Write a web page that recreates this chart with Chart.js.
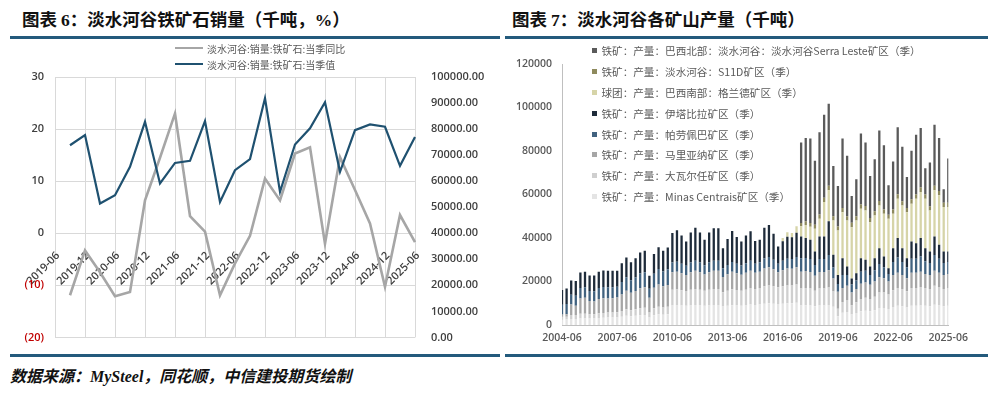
<!DOCTYPE html>
<html>
<head>
<meta charset="utf-8">
<script src="https://cdn.jsdelivr.net/npm/chart.js@4.4.1/dist/chart.umd.min.js"></script>
<style>
  body { margin: 0; width: 996px; height: 396px; background: #fff; position: relative; overflow: hidden;
         font-family: "Noto Sans CJK SC", sans-serif; }
  .title { position: absolute; top: 6px; font-size: 17.5px; font-weight: 700; color: #111; white-space: nowrap; line-height: 25px; }
  .num { font-family: "Liberation Serif", serif; }
  .rule { position: absolute; height: 3px; background: #235a7c; }
  canvas { position: absolute; }
  .legend { position: absolute; color: #595959; white-space: nowrap; z-index: 2; }
  .legend .row { display: flex; align-items: center; }
  .footer { position: absolute; left: 10px; top: 364px; font-size: 16px; font-weight: 700; font-style: italic; color: #111; line-height: 22px; white-space: nowrap; }
  .footer .en { font-family: "Liberation Serif", serif; }
</style>
</head>
<body>
<div class="title" style="left:22px">图表 <span class="num">6</span>：淡水河谷铁矿石销量（千吨，<span class="num">%</span>）</div>
<div class="title" style="left:512px">图表 <span class="num">7</span>：淡水河谷各矿山产量（千吨）</div>
<div class="rule" style="left:10px;width:490px;top:36px"></div>
<div class="rule" style="left:505px;width:483px;top:36px"></div>
<div class="rule" style="left:10px;width:490px;top:354px"></div>
<div class="rule" style="left:505px;width:483px;top:354px"></div>

<canvas id="salesChart" width="500" height="320" style="left:0;top:40px"></canvas>
<canvas id="mineChart" width="470" height="310" style="left:505px;top:40px"></canvas>

<div class="legend" id="salesLegend" style="left:175px;top:40px;font-size:10px"></div>
<div class="legend" id="mineLegend" style="left:592px;top:40px;font-size:10.6px"></div>

<div class="footer">数据来源：<span class="en">MySteel</span>，同花顺，中信建投期货绘制</div>

<script>
// ---- 图表6 data ----
const quarters = ['2019-06', '2019-09', '2019-12', '2020-03', '2020-06', '2020-09', '2020-12', '2021-03', '2021-06',
  '2021-09', '2021-12', '2022-03', '2022-06', '2022-09', '2022-12', '2023-03', '2023-06', '2023-09', '2023-12',
  '2024-03', '2024-06', '2024-09', '2024-12', '2025-03', '2025-06'];
const yoyLabel = '淡水河谷:销量:铁矿石:当季同比';
const salesLabel = '淡水河谷:销量:铁矿石:当季值';
const yoyValues = [null, -11.9, -3.3, -7.5, -12.1, -11.3, 6.3, 14.5, 23.0, 3.3, 0.3, -11.9, -5.8,
  -0.5, 10.5, 6.3, 15.3, 16.5, -2.0, 14.6, 8.3, 1.9, -10.3, 3.5, -1.7];
const salesValues = [null, 73800, 77700, 51400, 54600, 65500, 82800, 59100, 67000, 67800, 83100, 52000, 64200,
  68500, 91800, 55900, 74100, 80300, 90300, 63600, 79600, 81800, 80900, 65900, 77000];

// ---- 图表7 data ----
const mineQuarters = [
  '2004-06', '2004-09', '2004-12',
  '2005-03', '2005-06', '2005-09', '2005-12', '2006-03', '2006-06', '2006-09', '2006-12',
  '2007-03', '2007-06', '2007-09', '2007-12', '2008-03', '2008-06', '2008-09', '2008-12',
  '2009-03', '2009-06', '2009-09', '2009-12', '2010-03', '2010-06', '2010-09', '2010-12',
  '2011-03', '2011-06', '2011-09', '2011-12', '2012-03', '2012-06', '2012-09', '2012-12',
  '2013-03', '2013-06', '2013-09', '2013-12', '2014-03', '2014-06', '2014-09', '2014-12',
  '2015-03', '2015-06', '2015-09', '2015-12', '2016-03', '2016-06', '2016-09', '2016-12',
  '2017-03', '2017-06', '2017-09', '2017-12', '2018-03', '2018-06', '2018-09', '2018-12',
  '2019-03', '2019-06', '2019-09', '2019-12', '2020-03', '2020-06', '2020-09', '2020-12',
  '2021-03', '2021-06', '2021-09', '2021-12', '2022-03', '2022-06', '2022-09', '2022-12',
  '2023-03', '2023-06', '2023-09', '2023-12', '2024-03', '2024-06', '2024-09', '2024-12',
  '2025-03', '2025-06'];

const minasCentrais = [
  2500, 2500, 2800, 2800, 3000, 3000, 3000, 3000, 3200, 3300, 3400, 3400, 3500, 3800, 4200, 4000,
  4200, 4500, 4600, 3500, 4500, 4900, 4700, 4900,
  9000, 9000, 9000, 8800, 9000, 9200, 9000, 8800, 9000, 9200, 9200, 8500, 8800, 9100, 9000, 8800,
  9000, 9400, 9200, 9400, 9800, 10000, 9800, 9600, 9800, 10000, 10000, 10200,
  9000, 9100, 9000, 8600, 9000, 9000, 9200, 8400, 4000, 5600, 6000, 4800, 5500, 6300, 6500, 6300,
  6800, 7800, 7800, 7300, 8300, 8800, 8600, 8000, 8800, 8800, 9000, 8800, 8600, 9300, 9000, 8600, 8800];
const vargemGrande = [
  1300, 1300, 1800, 1800, 2200, 2200, 2000, 2000, 2200, 2200, 2300, 2300, 2400, 2600, 3000, 2800,
  3000, 3200, 3300, 2200, 3200, 3500, 3300, 3500,
  7200, 7300, 7000, 6800, 7200, 7400, 7200, 6900, 7200, 7400, 7400, 6600, 7000, 7300, 7100, 6900,
  7200, 7600, 7400, 7600, 8000, 8200, 8000, 7800, 8000, 8200, 8200, 8400,
  7800, 7900, 7800, 7200, 7800, 7800, 8000, 7000, 3500, 5000, 5500, 4300, 5000, 5700, 6000, 5700,
  6200, 7200, 7200, 6700, 7700, 8200, 7900, 7500, 8200, 8200, 8500, 8200, 7900, 8700, 8500, 7900, 8200];
const mariana = [
  1000, 1200, 4800, 4200, 7000, 7300, 6000, 5800, 6600, 6800, 6500, 6600, 6700, 7600, 8500, 8000,
  8400, 9200, 9500, 6800, 9400, 10200, 9800, 10000,
  8000, 8200, 7800, 7400, 8000, 8300, 8000, 7500, 8000, 8300, 8300, 7000, 7500, 8100, 7700, 7400,
  7800, 8000, 7400, 7500, 8200, 8400, 7800, 6800, 7400, 7800, 7700, 8000,
  7700, 7800, 7600, 6800, 7600, 7600, 8000, 6000, 7800, 6400, 6500, 5900, 6000, 7000, 7000, 6500,
  7000, 7000, 6500, 6000, 7000, 7000, 6500, 6000, 7000, 7000, 7000, 6500, 6500, 7000, 6500, 6500, 6500];
const paraopeba = [
  4500, 4600, 4500, 4600, 4800, 4800, 4600, 4700, 5000, 5200, 5200, 5100, 5000, 5800, 6300, 5800,
  6200, 6800, 6900, 4200, 6500, 7200, 6800, 7200,
  4500, 4600, 4400, 4200, 4500, 4600, 4500, 4300, 4500, 4600, 4600, 4000, 4300, 4500, 4400, 4200,
  4400, 4500, 4200, 4300, 4600, 4700, 4400, 4000, 4300, 4500, 4500, 4700,
  6200, 6000, 6000, 5000, 6000, 6000, 7000, 5000, 3500, 6000, 5000, 3600, 4000, 5500, 5400, 4500,
  5200, 6000, 5000, 3500, 6000, 7000, 6000, 5000, 6500, 6500, 7000, 5800, 5500, 7200, 6500, 5500, 5500];
const itabira = [
  6800, 7200, 6600, 6800, 7100, 7200, 7200, 7300, 7500, 7600, 7600, 7600, 7400, 8600, 9000, 8300,
  8900, 9600, 9800, 6000, 9000, 10000, 9500, 10000,
  13600, 14500, 13000, 11200, 13800, 15200, 13800, 11700, 13800, 15000, 15000, 9200, 11900, 14200, 12300, 11100,
  12700, 13600, 10400, 10400, 14100, 14700, 11900, 7900, 9000, 10100, 10000, 11100,
  10000, 9200, 8800, 6200, 10300, 10300, 15500, 5900, 4200, 7700, 3900, 2800, 3300, 6200, 5100, 3900,
  5500, 7300, 5000, 2600, 6300, 9000, 6300, 4200, 7900, 7100, 8500, 6000, 5300, 8500, 6400, 5300, 4800];
const grandePellets = [
  0, 0, 0, 0, 0, 0, 0, 0, 0, 0, 0, 0, 0, 0, 0, 0, 0, 0, 0, 0, 0, 0, 0, 0,
  0, 0, 0, 0, 0, 0, 0, 0, 0, 0, 0, 0, 0, 0, 0, 0, 0, 0, 0, 0, 0, 0, 0, 0, 1500, 2000, 1900, 3000,
  4700, 6000, 6000, 10500, 8100, 15800, 14200, 15700, 20400, 21100, 21100, 23500, 24200, 22700, 22600, 20300,
  19600, 19600, 19600, 22700, 15800, 18000, 19600, 21100, 17300, 20400, 21100, 22700, 18800, 21200, 22700, 20400, 20400];
const s11d = [
  0, 0, 0, 0, 0, 0, 0, 0, 0, 0, 0, 0, 0, 0, 0, 0, 0, 0, 0, 0, 0, 0, 0, 0,
  0, 0, 0, 0, 0, 0, 0, 0, 0, 0, 0, 0, 0, 0, 0, 0, 0, 0, 0, 0, 0, 0, 0, 0, 0, 0, 0, 0,
  1500, 1700, 1700, 1800, 2000, 2000, 2100, 2000, 1900, 2000, 2000, 2100, 2000, 2000, 2100, 2000,
  2000, 2100, 2000, 1900, 2000, 2100, 2000, 2000, 2100, 2000, 2100, 2000, 2000, 2100, 2000, 2000, 2000];
const serraLeste = [
  0, 0, 0, 0, 0, 0, 0, 0, 0, 0, 0, 0, 0, 0, 0, 0, 0, 0, 0, 0, 0, 0, 0, 0,
  0, 0, 0, 0, 0, 0, 0, 0, 0, 0, 0, 0, 0, 0, 0, 0, 0, 0, 0, 0, 0, 0, 0, 0, 0, 0, 0, 0,
  37000, 38300, 38900, 29400, 37800, 38200, 37700, 23100, 18600, 32000, 27800, 12300, 17000, 32700, 29200, 19300,
  23900, 32400, 29600, 13500, 22100, 30800, 25000, 14300, 22300, 27500, 27400, 12100, 20100, 28100, 24400, 6200, 20300];

// stacking order: bottom first
const mineSeries = [minasCentrais, vargemGrande, mariana, paraopeba, itabira, grandePellets, s11d, serraLeste];
const mineLabels = ['铁矿：产量：Minas Centrais矿区（季）', '铁矿：产量：大瓦尔任矿区（季）', '铁矿：产量：马里亚纳矿区（季）',
  '铁矿：产量：帕劳佩巴矿区（季）', '铁矿：产量：伊塔比拉矿区（季）', '球团：产量：巴西南部：格兰德矿区（季）',
  '铁矿：产量：淡水河谷：S11D矿区（季）', '铁矿：产量：巴西北部：淡水河谷：淡水河谷Serra Leste矿区（季）'];
const mineColors = ['#e4e4e4', '#cfcfcf', '#a6a6a6', '#41627f', '#1e2b3a', '#d6d4a8', '#8e8a5d', '#5a5a5a'];

Chart.defaults.font.family = '"Open Sans", sans-serif';
Chart.defaults.font.size = 10;
Chart.defaults.font.weight = '600';

const leftFont = { size: 11, weight: '600' };
const rightFont = { size: 10.5, weight: '600' };

new Chart(document.getElementById('salesChart'), {
  type: 'line',
  data: {
    labels: quarters,
    datasets: [
      { label: yoyLabel, data: yoyValues, yAxisID: 'y', borderColor: '#a6a6a6', borderWidth: 2.6,
        pointRadius: 0, order: 1 },
      { label: salesLabel, data: salesValues, yAxisID: 'y1', borderColor: '#1f5170', borderWidth: 2.2,
        pointRadius: 0, order: 0 }
    ]
  },
  options: {
    responsive: false,
    animation: false,
    layout: { padding: { top: 37, bottom: 3, left: 0, right: 0 } },
    plugins: { legend: { display: false }, tooltip: { enabled: false } },
    scales: {
      x: {
        position: { y: 0 },
        grid: { color: '#d9d9d9', drawTicks: false },
        border: { display: false },
        ticks: {
          autoSkip: false, minRotation: 45, maxRotation: 45, padding: 16, labelOffset: 3,
          color: '#404040', font: leftFont,
          callback: (v, i) => (i % 2 === 0 ? quarters[i] : null)
        }
      },
      y: {
        position: 'left', min: -20, max: 30,
        grid: { color: '#d9d9d9', drawTicks: false },
        border: { display: false },
        ticks: {
          stepSize: 10, padding: 11, font: leftFont,
          color: ctx => (ctx.tick.value < 0 ? '#c00000' : '#404040'),
          callback: v => (v < 0 ? '(' + (-v) + ')' : String(v))
        },
        afterFit: s => { s.width = 55; }
      },
      y1: {
        position: 'right', min: 0, max: 100000,
        grid: { display: false, drawTicks: false },
        border: { display: false },
        ticks: { stepSize: 10000, padding: 16, color: '#404040', font: leftFont, callback: v => v.toFixed(2) },
        afterFit: s => { s.width = 85; }
      }
    }
  }
});

new Chart(document.getElementById('mineChart'), {
  type: 'bar',
  data: {
    labels: mineQuarters,
    datasets: mineSeries.map((values, i) => ({
      label: mineLabels[i],
      data: values,
      backgroundColor: mineColors[i],
      borderWidth: 0,
      barPercentage: 0.5,
      categoryPercentage: 1
    }))
  },
  options: {
    responsive: false,
    animation: false,
    layout: { padding: { top: 24, right: 22, left: 0, bottom: 0 } },
    plugins: { legend: { display: false }, tooltip: { enabled: false } },
    scales: {
      x: {
        stacked: true, offset: false,
        grid: { display: false, drawTicks: false },
        border: { color: '#bfbfbf' },
        ticks: {
          autoSkip: false, maxRotation: 0, padding: 7, color: '#595959', font: rightFont,
          callback: (v, i) => (i % 12 === 0 ? mineQuarters[i] : null)
        },
        afterFit: s => { s.height = 25; }
      },
      y: {
        stacked: true, min: 0, max: 120000,
        grid: { display: false, drawTicks: false },
        border: { color: '#bfbfbf' },
        ticks: { stepSize: 20000, padding: 10, color: '#595959', font: rightFont, callback: v => String(v) },
        afterFit: s => { s.width = 57; }
      }
    }
  }
});

// legends (HTML)
const salesLegend = document.getElementById('salesLegend');
[[yoyLabel, '#a6a6a6'], [salesLabel, '#1f5170']].forEach(([text, color]) => {
  const row = document.createElement('div');
  row.className = 'row';
  row.style.height = '16px';
  row.innerHTML = `<span style="display:inline-block;width:28px;height:2.5px;background:${color};margin-right:4px"></span>${text}`;
  salesLegend.appendChild(row);
});

const mineLegend = document.getElementById('mineLegend');
for (let i = mineLabels.length - 1; i >= 0; i--) {
  const row = document.createElement('div');
  row.className = 'row';
  row.style.height = '20.9px';
  row.innerHTML = `<span style="display:inline-block;width:5px;height:5px;background:${mineColors[i]};margin-right:4.5px"></span>${mineLabels[i]}`;
  mineLegend.appendChild(row);
}
</script>
</body>
</html>
